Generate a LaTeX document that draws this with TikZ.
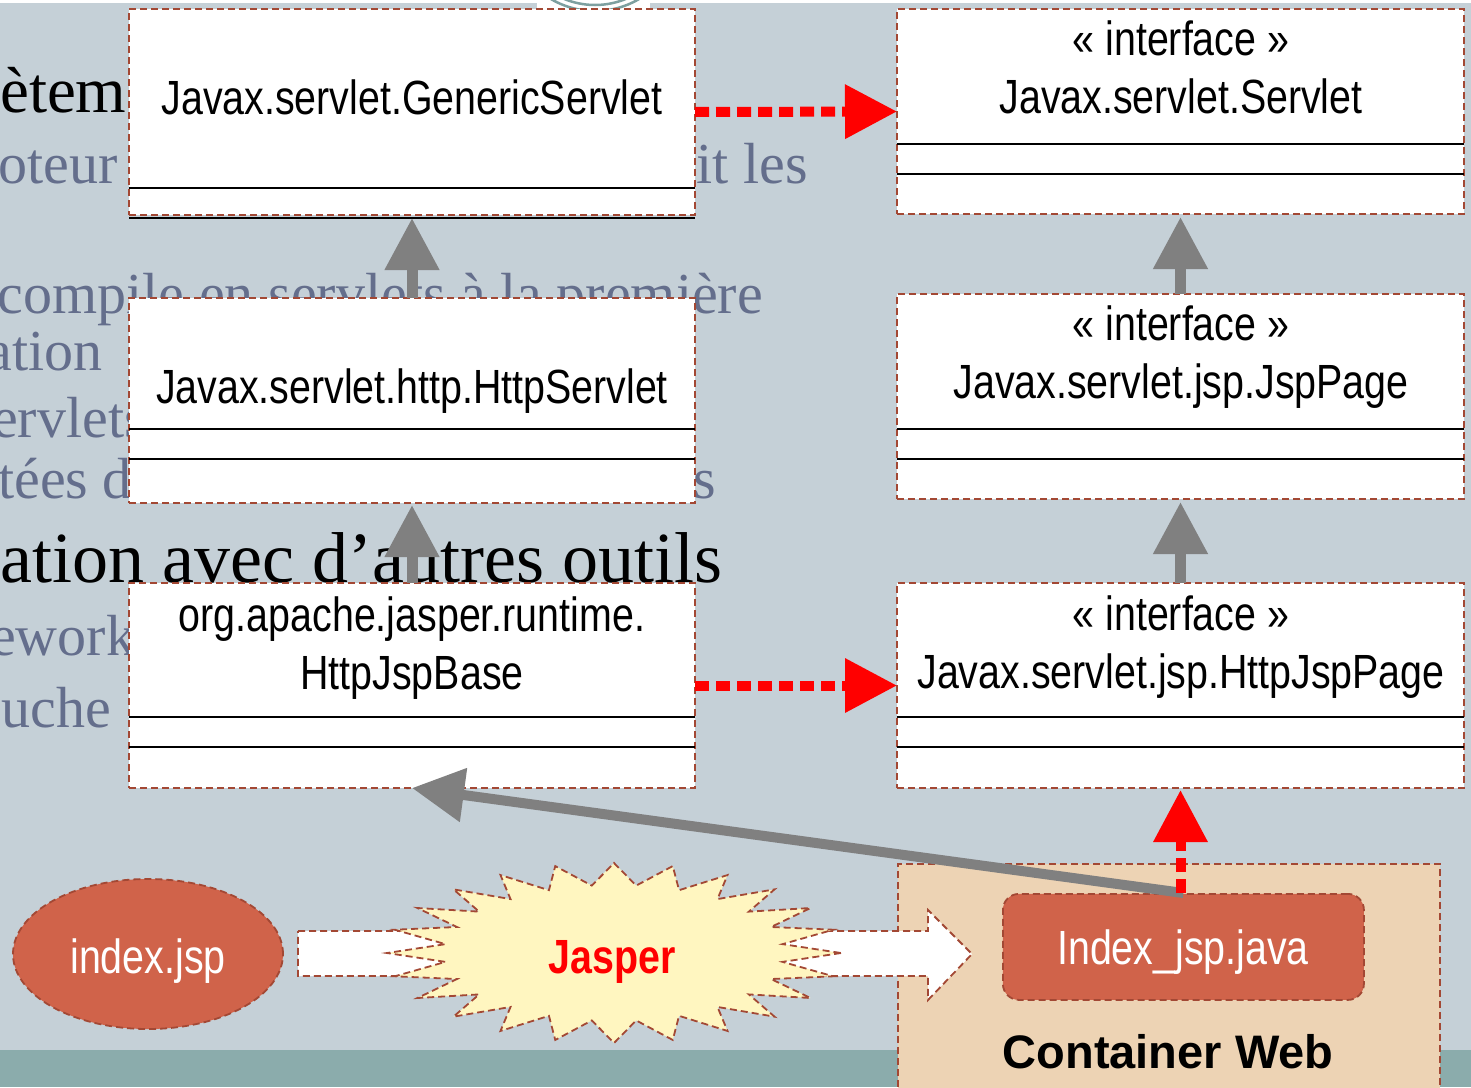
\documentclass[tikz,border=0pt]{standalone}
\usepackage{fontspec}
\setmainfont{Liberation Sans}
\newfontfamily\narrowsans{Liberation Sans}[FakeStretch=0.82]
\newfontfamily\bgserif{Liberation Serif}
\usetikzlibrary{arrows.meta,shapes.geometric}
\definecolor{bgc}{RGB}{197,208,215}
\definecolor{stripc}{RGB}{139,172,172}
\definecolor{ringc}{RGB}{125,160,160}
\definecolor{brd}{RGB}{163,72,52}
\definecolor{coral}{RGB}{208,99,74}
\definecolor{starc}{RGB}{255,246,192}
\definecolor{contc}{RGB}{237,211,180}
\definecolor{gtext}{RGB}{100,110,140}
\definecolor{arrgray}{RGB}{128,128,128}
\tikzset{
  dashborder/.style={draw=brd, line width=1.8pt, dash pattern=on 7pt off 4pt},
  umlbox/.style={dashborder, fill=white, minimum width=566pt, minimum height=205pt, anchor=north west, inner sep=0pt, outer sep=0pt},
  boxtext/.style={font=\narrowsans\fontsize{48}{58}\selectfont, anchor=base, inner sep=0pt},
  sepline/.style={line width=2.5pt, black},
  inherit/.style={draw=arrgray, line width=11pt, -{Triangle[length=52pt,width=52pt]}},
  assoc/.style={draw=arrgray, line width=10pt, -{Triangle[length=52pt,width=52pt]}},
  realize/.style={draw=red, line width=10pt, dash pattern=on 14pt off 7pt, -{Triangle[length=52pt,width=52pt]}},
  bgtext/.style={font=\bgserif\fontsize{58}{70}\selectfont, text=gtext, inner sep=0pt},
  bghead/.style={font=\bgserif\fontsize{72}{80}\selectfont, text=black, inner sep=0pt},
}
\begin{document}
\begin{tikzpicture}[x=1pt, y=-1pt]
\useasboundingbox (0,0) rectangle (1471,1087);
% background
\fill[white] (0,0) rectangle (1471,1087);
\fill[bgc] (0,3) rectangle (1471,1050);
\fill[stripc] (0,1050) rectangle (1471,1087);
\fill[white] (537,0) rectangle (650,9);
\begin{scope}
  \clip (537,0) rectangle (650,9);
  \draw[ringc, line width=2.5pt] (595,-76) circle[radius=87];
  \draw[ringc, line width=2.5pt] (595,-76) circle[radius=81];
\end{scope}
% background slide text
\node[bghead, anchor=base west] (t1) at (0,112) {\fontsize{65}{75}\selectfont ètem};
\node[bgtext, anchor=base east] (t2) at (118,183) {oteur};
\node[bgtext, anchor=base east] (t3) at (808,183) {it les};
\node[bgtext, anchor=base east] (t4) at (763,313) {compile en servlets à la première};
\node[bgtext, anchor=base east] (t5) at (103,370) {ation};
\node[bgtext, anchor=base west] (t6) at (-8,437) {ervlets};
\node[bgtext, anchor=base west] (t7) at (-2,498) {tées d};
\node[bgtext, anchor=base east] (t8) at (716,498) {s};
\node[bghead, anchor=base west] (t9) at (0,582) {ation avec d’autres outils};
\node[bgtext, anchor=base west] (t10) at (-10,655) {ework};
\node[bgtext, anchor=base east] (t11) at (111,727) {uche};
% UML boxes, left column
\node[umlbox, minimum height=206pt] (gs) at (129,9) {};
\node[umlbox] (hs) at (129,298) {};
\node[umlbox] (hjb) at (129,583) {};
% right column
\node[umlbox, minimum width=567pt] (sv) at (897,9) {};
\node[umlbox, minimum width=567pt] (jp) at (897,294) {};
\node[umlbox, minimum width=567pt] (hjp) at (897,583) {};
% separators
\draw[sepline] (129,188) -- (695,188);
\draw[sepline] (129,218) -- (695,218);
\draw[sepline] (129,429) -- (695,429);
\draw[sepline] (129,459) -- (695,459);
\draw[sepline] (129,717) -- (695,717);
\draw[sepline] (129,747) -- (695,747);
\draw[sepline] (897,144) -- (1464,144);
\draw[sepline] (897,174) -- (1464,174);
\draw[sepline] (897,429) -- (1464,429);
\draw[sepline] (897,459) -- (1464,459);
\draw[sepline] (897,717) -- (1464,717);
\draw[sepline] (897,747) -- (1464,747);
% box texts
\node[boxtext] (gst) at (412,114) {Javax.servlet.GenericServlet};
\node[boxtext] (hst) at (412,403) {Javax.servlet.http.HttpServlet};
\node[boxtext] (hjbt1) at (412,631) {org.apache.jasper.runtime.};
\node[boxtext] (hjbt2) at (412,689) {HttpJspBase};
\node[boxtext] (svt1) at (1181,55) {« interface »};
\node[boxtext] (svt2) at (1181,113) {Javax.servlet.Servlet};
\node[boxtext] (jpt1) at (1181,340) {« interface »};
\node[boxtext] (jpt2) at (1181,398) {Javax.servlet.jsp.JspPage};
\node[boxtext] (hjpt1) at (1181,630) {« interface »};
\node[boxtext] (hjpt2) at (1181,688) {Javax.servlet.jsp.HttpJspPage};
% container web
\node[dashborder, fill=contc, anchor=north west, minimum width=542pt, minimum height=240pt, inner sep=0pt] (cw) at (897,863) {};
\node[font=\bfseries\fontsize{47}{56}\selectfont, anchor=base, inner sep=0pt] (cwl) at (1168,1068) {Container Web};
\node[dashborder, fill=coral, rounded corners=16pt, anchor=north west, minimum width=361pt, minimum height=106pt, inner sep=0pt] (ij) at (1002,893) {};
\node[boxtext, text=white] (ijt) at (1183,964) {Index\_jsp.java};
% index.jsp
\node[dashborder, ellipse, fill=coral, minimum width=270pt, minimum height=150pt, inner sep=0pt] (jsp) at (148,954) {};
\node[boxtext, text=white] (jspt) at (148,973) {index.jsp};
% block arrow
\draw[dashborder, fill=white] (298,931) -- (928,931) -- (928,910) -- (972,954) -- (928,1000) -- (928,976) -- (298,976) -- cycle;
% Jasper star
\draw[dashborder, fill=starc] plot[samples at={0,...,47}, variable=\k]
  ({614+(isodd(\k) ? 170 : 227)*cos(\k*7.5)}, {953+(isodd(\k) ? 68 : 90)*sin(\k*7.5)}) -- cycle;
\node[boxtext, font=\narrowsans\bfseries\fontsize{48}{58}\selectfont, text=red] (jasper) at (612,973) {Jasper};
% connectors
\draw[inherit] (hs.north) -- ([yshift=-3pt]gs.south);
\draw[inherit] (hjb.north) -- ([yshift=-2pt]hs.south);
\draw[inherit] (jp.north) -- ([yshift=-3pt]sv.south);
\draw[inherit] (hjp.north) -- ([yshift=-3pt]jp.south);
\draw[realize] (gs.east) -- (sv.west);
\draw[realize] (hjb.east) -- (hjp.west);
\draw[assoc] (ij.north) -- (hjb.south);
\draw[realize] (ij.north -| hjp.south) -- ([yshift=-2pt]hjp.south);
\end{tikzpicture}
\end{document}
